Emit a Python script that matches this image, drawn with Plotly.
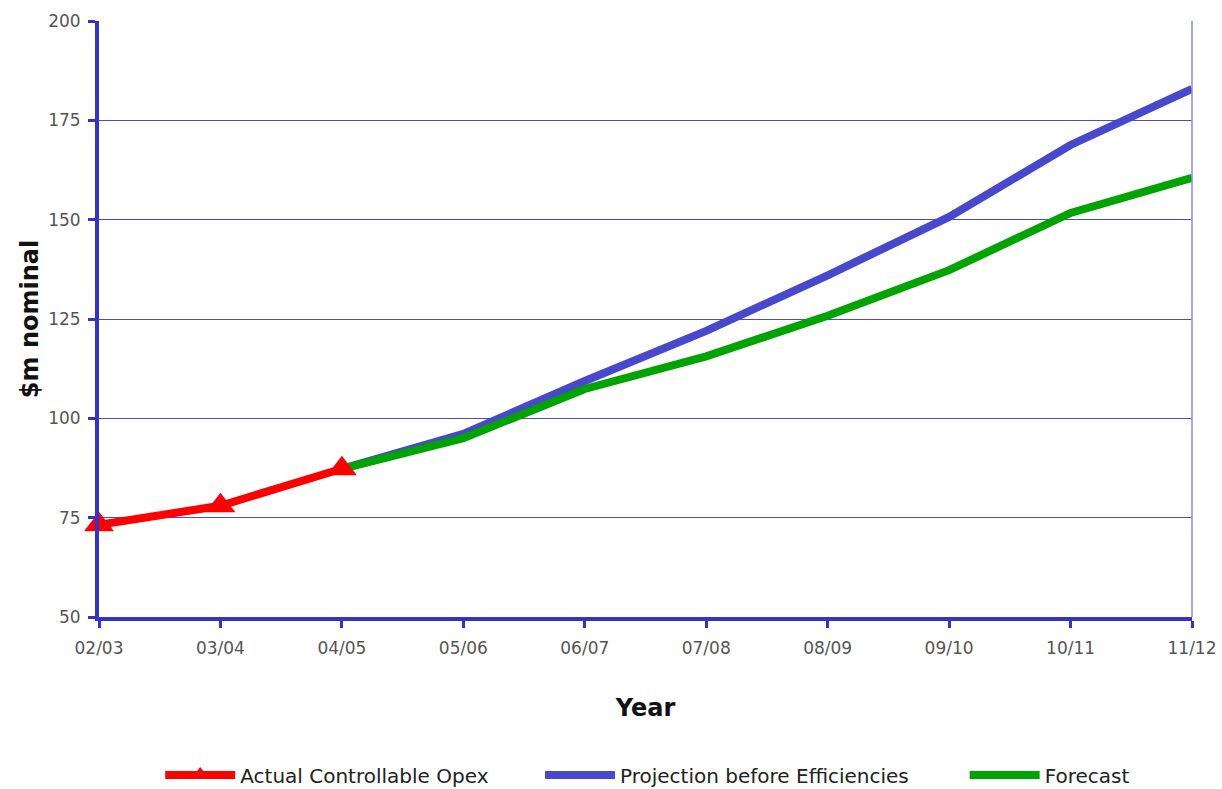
import plotly.graph_objects as go

# Financial years shown on the x axis
years = ["02/03", "03/04", "04/05", "05/06", "06/07", "07/08", "08/09", "09/10", "10/11", "11/12"]

# $m nominal
actual_opex = [73.2, 78.0, 87.3]
projection = [87.3, 96.1, 109.4, 122.0, 136.0, 150.7, 168.8, 182.9]
forecast = [87.3, 95.0, 107.4, 115.6, 125.8, 137.3, 151.7, 160.5]

y_ticks = [50, 75, 100, 125, 150, 175, 200]

idx = list(range(len(years)))
actual_x = idx[:len(actual_opex)]
proj_x = idx[2:2 + len(projection)]
fc_x = idx[2:2 + len(forecast)]

AXIS_BLUE = "#3434c4"
GRID_BLUE = "#4a4ad0"
FONT = "DejaVu Sans"

fig = go.Figure()

fig.add_trace(go.Scatter(
    x=proj_x, y=projection, mode="lines", name="Projection before Efficiencies",
    line=dict(color="#4848cc", width=8), cliponaxis=False, legend="legend2",
))
fig.add_trace(go.Scatter(
    x=fc_x, y=forecast, mode="lines", name="Forecast",
    line=dict(color="#00a400", width=8), cliponaxis=False, legend="legend3",
))
fig.add_trace(go.Scatter(
    x=actual_x, y=actual_opex, mode="lines+markers", name="Actual Controllable Opex",
    line=dict(color="#ff0000", width=8),
    marker=dict(symbol="triangle-up", size=26, color="#ff0000"),
    cliponaxis=False, legend="legend",
))

# thin frame on the right edge of the plot area
fig.add_shape(type="line", xref="paper", yref="paper", x0=1, x1=1, y0=0, y1=1,
              line=dict(color="#8c8ce0", width=1.5))


def legend_at(x):
    return dict(
        orientation="h", x=x, xanchor="left", y=-0.265, yanchor="middle",
        font=dict(family=FONT, size=20, color="#222222"),
        itemwidth=70, bgcolor="rgba(0,0,0,0)",
    )


fig.update_layout(
    width=1222, height=789,
    margin=dict(l=99, r=30, t=21, b=172, autoexpand=False),
    plot_bgcolor="white", paper_bgcolor="white",
    font=dict(family=FONT, color="#555555", size=17),
    showlegend=True,
    legend=legend_at(0.056),
    legend2=legend_at(0.4035),
    legend3=legend_at(0.792),
    xaxis=dict(
        range=[0, 9], tickmode="array", tickvals=idx, ticktext=years,
        showgrid=False, zeroline=False,
        showline=True, linecolor=AXIS_BLUE, linewidth=4,
        ticks="outside", ticklen=7, tickwidth=3, tickcolor=AXIS_BLUE,
        ticklabelstandoff=6,
        title=dict(text="<b>Year</b>", font=dict(family=FONT, size=24, color="#111111"), standoff=43),
    ),
    yaxis=dict(
        range=[50, 200], tickmode="array", tickvals=y_ticks,
        showgrid=True, gridcolor=GRID_BLUE, gridwidth=1, zeroline=False,
        showline=True, linecolor=AXIS_BLUE, linewidth=4,
        ticks="outside", ticklen=7, tickwidth=3, tickcolor=AXIS_BLUE,
        ticklabelstandoff=4,
        title=dict(text="<b>$m nominal</b>", font=dict(family=FONT, size=24, color="#111111"), standoff=4),
    ),
)

fig.write_html("out.html")
